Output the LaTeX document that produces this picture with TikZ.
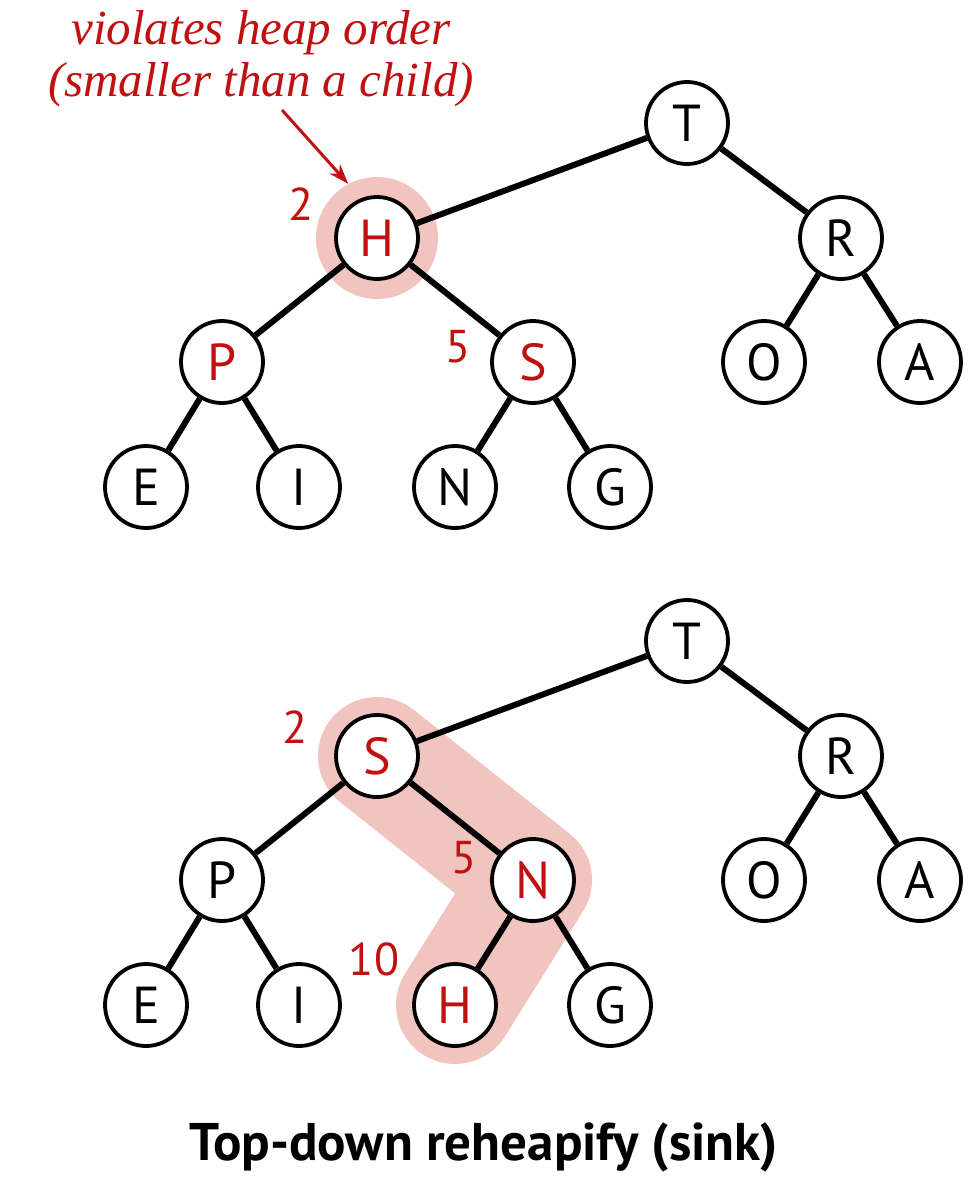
\documentclass[tikz,border=0pt]{standalone}
\usepackage{fontspec}
\setmainfont{PT Sans}
\newfontfamily\notefont{Liberation Serif}
\usetikzlibrary{arrows.meta,backgrounds}
\definecolor{hred}{RGB}{192,16,16}
\definecolor{hpink}{RGB}{242,196,192}

\begin{document}
\begin{tikzpicture}[
	x=0.5pt, y=-0.5pt,
	key/.style={
		draw, circle, line width=1.9pt, fill=white,
		minimum size=41pt, inner sep=0pt,
		font=\fontsize{26}{30}\selectfont
	},
	hot/.style={key, text=hred},
	edge/.style={line width=3pt},
	idx/.style={font=\fontsize{23}{26}\selectfont, text=hred, inner sep=0pt},
	hilite/.style={line width=59pt, hpink, line cap=round, line join=round},
	ring/.style={circle, fill=hpink, minimum size=61pt, inner sep=0pt},
	note/.style={font=\notefont\itshape\fontsize{24.5}{26}\selectfont, text=hred, align=center, inner sep=0pt},
	pointer/.style={-{Stealth[length=10pt,width=7pt]}, line width=1.5pt, hred},
	title/.style={font=\bfseries\fontsize{26.5}{30}\selectfont, inner sep=0pt},
	]
	\useasboundingbox (0,0) rectangle (968,1200);

	% before: H breaks heap order at index 2
	\node[key] (t1) at (687,123) {T};
	\node[hot] (h1) at (377,238) {H};
	\node[key] (r1) at (841,238) {R};
	\node[hot] (p1) at (222,362) {P};
	\node[hot] (s1) at (533,362) {S};
	\node[key] (o1) at (764,362) {O};
	\node[key] (a1) at (920,362) {A};
	\node[key] (e1) at (146,487) {E};
	\node[key] (i1) at (299,487) {I};
	\node[key] (n1) at (455,487) {N};
	\node[key] (g1) at (610,487) {G};

	\draw[edge] (t1) -- (h1);
	\draw[edge] (t1) -- (r1);
	\draw[edge] (h1) -- (p1);
	\draw[edge] (h1) -- (s1);
	\draw[edge] (r1) -- (o1);
	\draw[edge] (r1) -- (a1);
	\draw[edge] (p1) -- (e1);
	\draw[edge] (p1) -- (i1);
	\draw[edge] (s1) -- (n1);
	\draw[edge] (s1) -- (g1);

	\node[idx] (k12) at (301,204) {2};
	\node[idx] (k15) at (458,347) {5};

	% after: H sunk to index 10
	\node[key] (t2) at (687,641) {T};
	\node[hot] (s2) at (377,756) {S};
	\node[key] (r2) at (841,756) {R};
	\node[key] (p2) at (222,880) {P};
	\node[hot] (n2) at (533,880) {N};
	\node[key] (o2) at (764,880) {O};
	\node[key] (a2) at (920,880) {A};
	\node[key] (e2) at (146,1005) {E};
	\node[key] (i2) at (299,1005) {I};
	\node[hot] (h2) at (455,1005) {H};
	\node[key] (g2) at (610,1005) {G};

	\draw[edge] (t2) -- (s2);
	\draw[edge] (t2) -- (r2);
	\draw[edge] (s2) -- (p2);
	\draw[edge] (s2) -- (n2);
	\draw[edge] (r2) -- (o2);
	\draw[edge] (r2) -- (a2);
	\draw[edge] (p2) -- (e2);
	\draw[edge] (p2) -- (i2);
	\draw[edge] (n2) -- (h2);
	\draw[edge] (n2) -- (g2);

	\node[idx] (k22) at (295,727) {2};
	\node[idx] (k25) at (464,858) {5};
	\node[idx] (k210) at (374,959) {10};

	\begin{pgfonlayer}{background}
		\node[ring] (ring) at (h1) {};
		\draw[hilite] (s2.center) -- (n2.center) -- (h2.center);
	\end{pgfonlayer}

	% annotation
	\node[note, anchor=base] (why) at (261,96) {violates heap order\\(smaller than a child)};
	\coordinate (tail) at (282,110);
	\draw[pointer] (tail) -- (ring.118);

	\node[title, anchor=base] (caption) at (484,1160) {Top-down reheapify (sink)};
\end{tikzpicture}
\end{document}
